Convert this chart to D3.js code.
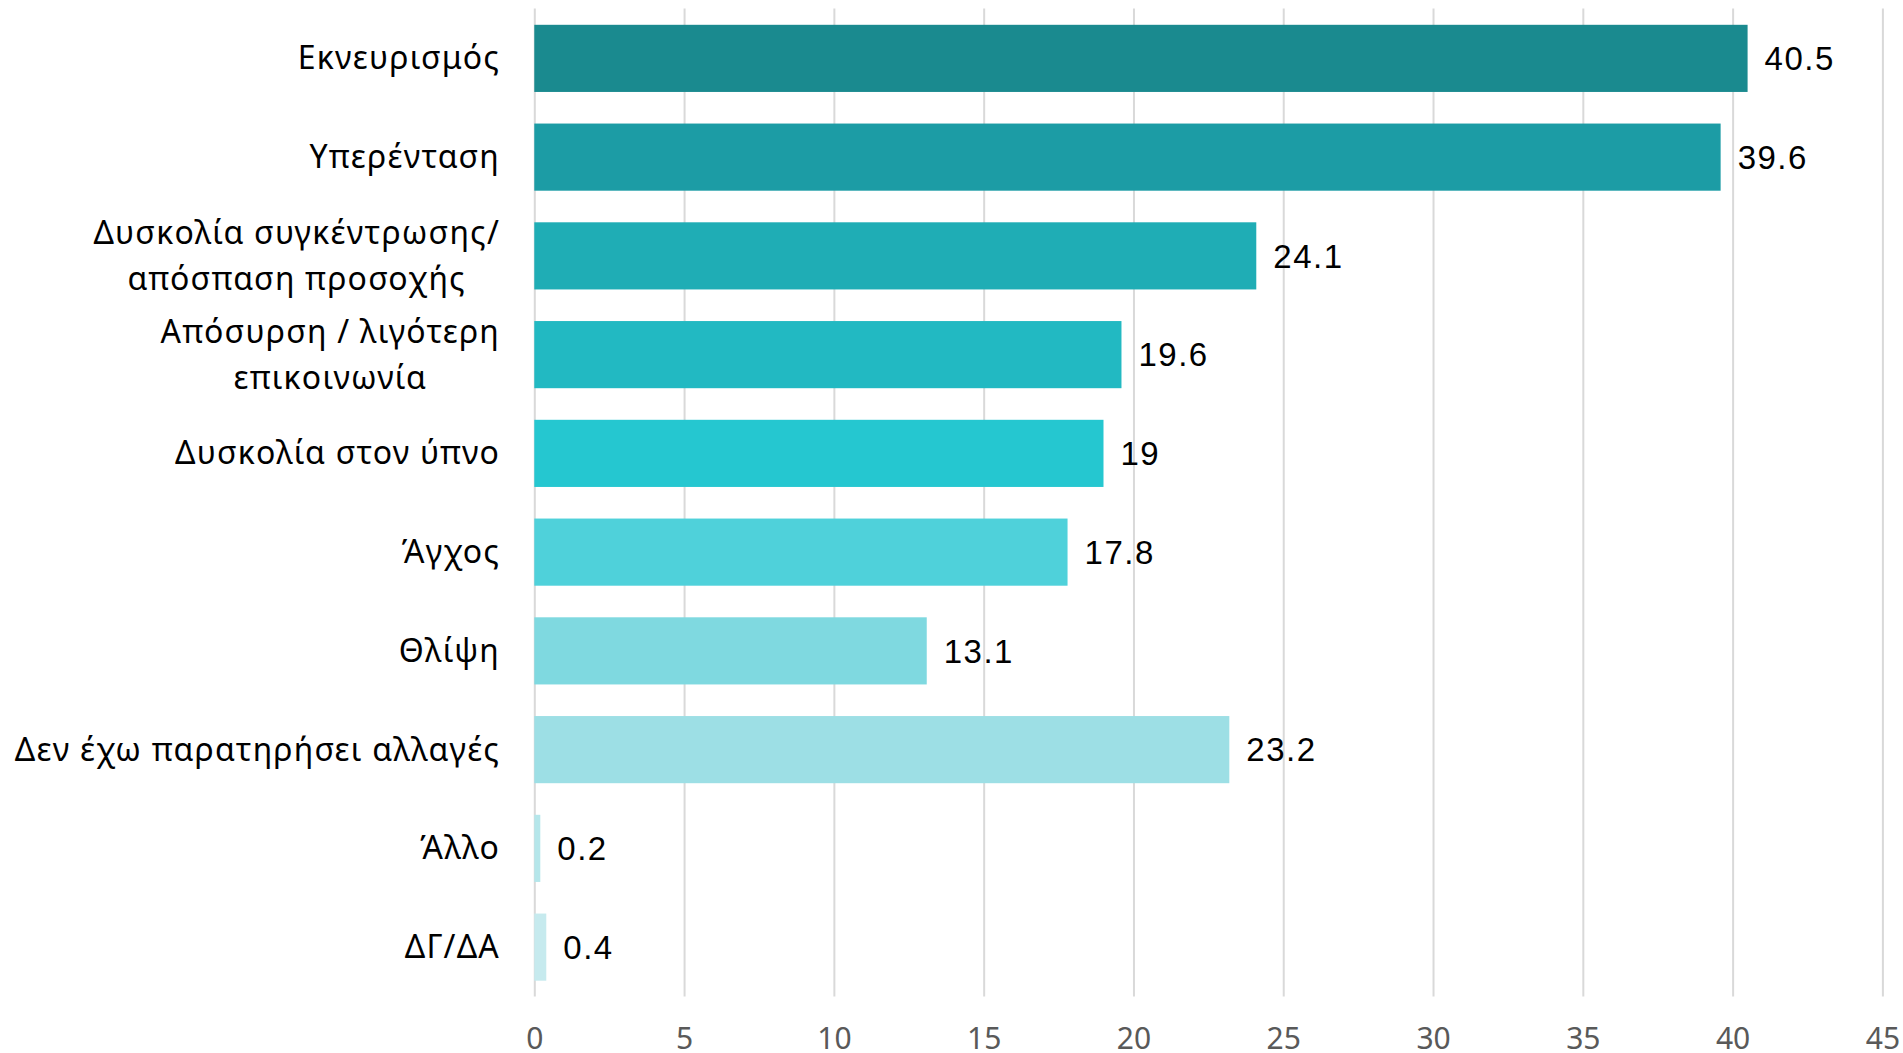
<!DOCTYPE html>
<html>
<head>
<meta charset="utf-8">
<script src="https://cdn.jsdelivr.net/npm/d3@7"></script>
<style>
  body { margin: 0; background: #fff; }
  svg { display: block; }
  .cat { font-family: "Noto Sans", "Open Sans", sans-serif; font-size: 32px; letter-spacing: 1.2px; fill: #000; }
  .val { font-family: "Liberation Sans", Arial, sans-serif; font-size: 33px; letter-spacing: 1.5px; fill: #000; }
  .x-axis text { font-family: "Noto Sans", "Open Sans", sans-serif; font-size: 30px; fill: #595959; }
  .x-axis line { stroke: #d9d9d9; stroke-width: 2; }
</style>
</head>
<body>
<div id="chart"></div>
<script>
// Data
const categories = [
    "Εκνευρισμός",
    "Υπερένταση",
    "Δυσκολία συγκέντρωσης/\nαπόσπαση προσοχής",
    "Απόσυρση / λιγότερη\nεπικοινωνία",
    "Δυσκολία στον ύπνο",
    "Άγχος",
    "Θλίψη",
    "Δεν έχω παρατηρήσει αλλαγές",
    "Άλλο",
    "ΔΓ/ΔΑ"
];
const values = [40.5, 39.6, 24.1, 19.6, 19, 17.8, 13.1, 23.2, 0.2, 0.4];
const barColors = [
    "#1a8a8f", "#1c9ca5", "#1fadb5", "#22b9c2", "#25c7d0",
    "#4fd1da", "#7fd9e0", "#9ddfe5", "#b5e6ea", "#c6eaee"
];
const xTicks = [0, 5, 10, 15, 20, 25, 30, 35, 40, 45];

const width = 1903;
const height = 1053;

const svg = d3.select('#chart')
    .append('svg')
    .attr('width', width)
    .attr('height', height);

const x = d3.scaleLinear()
    .domain([0, 45])
    .range([534.3, 1882.4]);

const y = d3.scaleBand()
    .domain(categories)
    .range([9, 996.5])
    .paddingInner(0.32)
    .paddingOuter(0.16);

// Gridlines + tick labels
const xAxis = svg.append('g')
    .attr('class', 'x-axis')
    .attr('transform', 'translate(0,996.5)')
    .call(d3.axisBottom(x)
        .tickValues(xTicks)
        .tickFormat(d3.format('d'))
        .tickSize(-988));

xAxis.select('.domain').remove();
xAxis.selectAll('text').attr('y', 31);

// Bars
svg.append('g')
    .selectAll('rect')
    .data(values)
    .enter()
    .append('rect')
    .attr('x', x(0))
    .attr('y', (d, i) => y(categories[i]))
    .attr('width', d => x(d) - x(0))
    .attr('height', y.bandwidth())
    .attr('fill', (d, i) => barColors[i]);

// Value labels
svg.append('g')
    .selectAll('text')
    .data(values)
    .enter()
    .append('text')
    .attr('class', 'val')
    .attr('x', d => x(d) + 17)
    .attr('y', (d, i) => y(categories[i]) + y.bandwidth() / 2 + 11.7)
    .text(d => d);

// Category labels (multi-line ones centred inside a right-aligned block)
const labelRight = 500;
const lineGap = 46;

categories.forEach((cat, i) => {
    const lines = cat.split('\n');
    const cy = y(cat) + y.bandwidth() / 2;
    const t = svg.append('text')
        .attr('class', 'cat');
    lines.forEach((ln, j) => {
        t.append('tspan')
            .attr('y', cy + 11 + (j - (lines.length - 1) / 2) * lineGap)
            .text(ln);
    });
    const spans = t.selectAll('tspan').nodes();
    const maxW = d3.max(spans, s => s.getComputedTextLength());
    if (lines.length === 1) {
        t.attr('text-anchor', 'end');
        d3.select(spans[0]).attr('x', labelRight);
    } else {
        t.attr('text-anchor', 'middle');
        spans.forEach(s => d3.select(s).attr('x', labelRight - maxW / 2));
    }
});
</script>
</body>
</html>
